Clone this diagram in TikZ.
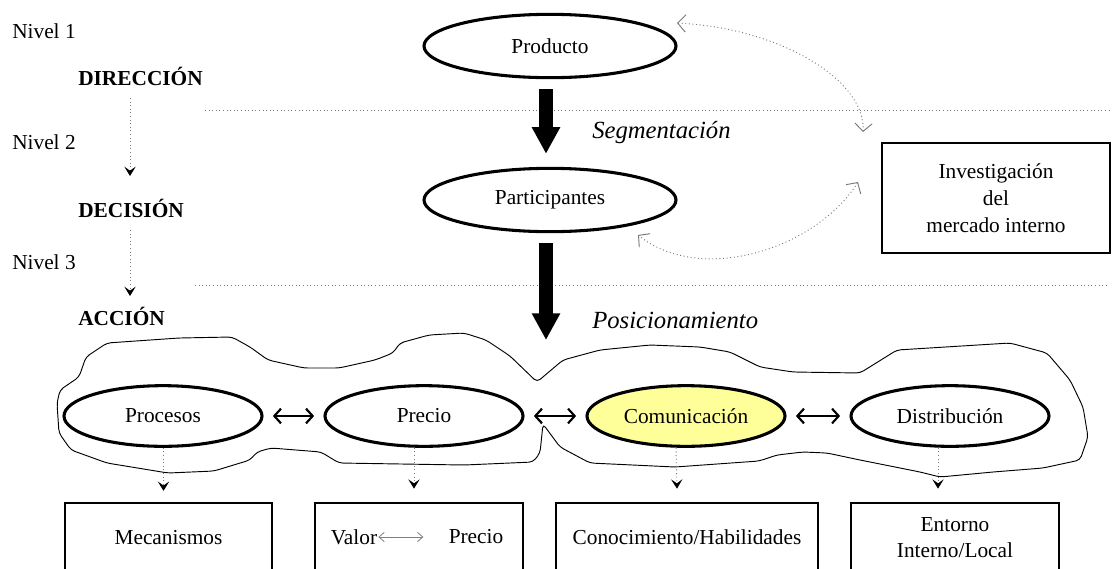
\documentclass[tikz,border=0pt]{standalone}
\usepackage{fontspec}
\setmainfont{Liberation Serif}
\usetikzlibrary{arrows.meta,shapes.geometric,calc}
\definecolor{paleyellow}{RGB}{255,255,153}
\definecolor{dotgray}{RGB}{120,120,120}
\begin{document}
\begin{tikzpicture}[x=0.75pt,y=-0.75pt,
  every node/.style={font=\fontsize{16}{19}\selectfont},
  oval/.style={draw, ellipse, line width=2.3pt, inner sep=0pt,
               minimum width=148.5pt, minimum height=45.5pt},
  bigoval/.style={oval, minimum width=189pt, minimum height=47.5pt},
  framebox/.style={draw, line width=2pt, inner sep=0pt, align=center,
               minimum height=51.75pt},
  levellabel/.style={anchor=west, inner sep=0pt},
  stagelabel/.style={anchor=west, inner sep=0pt, font=\fontsize{16}{19}\selectfont\bfseries},
  flowlabel/.style={anchor=west, inner sep=0pt, font=\fontsize{18.5}{22}\selectfont\itshape},
  dotline/.style={dotted, dotgray, line width=0.7pt},
  dotarrow/.style={dotted, dotgray, line width=0.7pt,
               -{Stealth[color=black, length=7pt, width=8.5pt, inset=3pt]}},
  feedback/.style={dotted, dotgray, line width=0.7pt,
               {Straight Barb[color=dotgray, length=6pt, width=13pt]}-{Straight Barb[color=dotgray, length=6pt, width=13pt]}},
  bigarrow/.style={line width=10.5pt, -{Triangle[length=20pt, width=20pt]}},
  linkarrow/.style={line width=1.6pt, shorten <=7pt, shorten >=7pt,
               {Straight Barb[length=5pt, width=11pt]}-{Straight Barb[length=5pt, width=11pt]}},
]
\clip (0,0) rectangle (1112,568);

% level labels on the left
\node[levellabel] (niv1) at (12,31) {Nivel 1};
\node[levellabel] (niv2) at (12,142) {Nivel 2};
\node[levellabel] (niv3) at (12,262) {Nivel 3};
\node[stagelabel] (dir) at (78,76) {DIRECCIÓN};
\node[stagelabel] (dec) at (78,208) {DECISIÓN};
\node[stagelabel] (acc) at (78,316) {ACCIÓN};

\coordinate (d1s) at (130,98);
\coordinate (d1e) at (130,176);
\coordinate (d2s) at (130,230);
\coordinate (d2e) at (130,296);
\draw[dotarrow] (d1s) -- (d1e);
\draw[dotarrow] (d2s) -- (d2e);

% level separators
\coordinate (sep1a) at (205,110);
\coordinate (sep1b) at (1112,110);
\coordinate (sep2a) at (195,285);
\coordinate (sep2b) at (1108,285);
\draw[dotline] (sep1a) -- (sep1b);
\draw[dotline] (sep2a) -- (sep2b);

% upper flow
\node[bigoval] (prod) at (550,46) {Producto};
\node[bigoval] (part) at (550,200) {Participantes};
\node[flowlabel] (seg) at (592,133) {Segmentación};
\node[flowlabel] (pos) at (592,320) {Posicionamiento};
\coordinate (posend) at (546,340);

\draw[bigarrow] ($(prod.south)+(-4,10)$) -- ($(part.north)+(-4,-13)$);
\draw[bigarrow] ($(part.south)+(-4,10)$) -- (posend);

% market research box and its feedback loops
\node[framebox, minimum width=171pt, minimum height=82.5pt,
      font=\fontsize{16}{20.3}\selectfont] (inv) at (996,198)
      {Investigación\\del\\mercado interno};

\coordinate (fb1a) at (677,23);
\coordinate (fb1b) at (863,132);
\coordinate (fb2a) at (858,182);
\coordinate (fb2b) at (638,235);
\draw[feedback] (fb1a) .. controls (780,28) and (866,80) .. (fb1b);
\draw[feedback] (fb2a) .. controls (815,250) and (700,285) .. (fb2b);

% outline grouping the marketing mix
\draw[line width=0.7pt, rounded corners=3pt]
  (57,403) -- (60,390) -- (79,377) -- (86,357) -- (107,343) -- (179,338)
  -- (232,337) -- (250,347) -- (268,360) -- (304,368) -- (339,368)
  -- (375,360) -- (393,353) -- (400,343) -- (429,335) -- (464,333)
  -- (486,340) -- (510,356) -- (537,382) -- (563,360) -- (600,350)
  -- (650,345) -- (700,347) -- (730,352) -- (760,367) -- (793,372)
  -- (860,373) -- (897,350) -- (1010,343) -- (1047,353) -- (1070,380)
  -- (1083,407) -- (1088,437) -- (1080,460) -- (1043,468) -- (993,472)
  -- (940,477) -- (920,472) -- (860,460) -- (827,453) -- (803,452)
  -- (777,455) -- (759,461) -- (675,467) -- (590,463) -- (560,447)
  -- (543,424) -- (540,453) -- (533,462) -- (464,465) -- (339,463)
  -- (321,452) -- (271,448) -- (257,452) -- (250,460) -- (214,471)
  -- (168,473) -- (107,463) -- (71,450) -- (59,433) -- cycle;

% marketing mix
\node[oval] (proc) at (163,416) {Procesos};
\node[oval] (prec) at (424,416) {Precio};
\node[oval, fill=paleyellow] (com) at (686,416) {Comunicación};
\node[oval] (dist) at (950,416) {Distribución};

\draw[linkarrow] (proc.east) -- (prec.west);
\draw[linkarrow] (prec.east) -- (com.west);
\draw[linkarrow] (com.east) -- (dist.west);

% outcomes
\node[framebox, minimum width=155.25pt] (mec) at (168.5,537.5) {Mecanismos};
\node[framebox, minimum width=156pt] (val) at (419,537.5) {};
\node[framebox, minimum width=196.5pt] (con) at (687,537.5) {Conocimiento/Habilidades};
\node[framebox, minimum width=156pt, font=\fontsize{16}{19}\selectfont] (ent) at (955,537.5) {Entorno\\Interno/Local};

\node[inner sep=0pt] (valw) at (354,537) {Valor};
\node[inner sep=0pt] (valp) at (476,537) {Precio};
\draw[gray, line width=0.6pt, {Straight Barb[length=4pt, width=7pt]}-{Straight Barb[length=4pt, width=7pt]}]
  ($(valw.east)+(1,0)$) -- ($(valw.east)+(46,0)$);

\draw[dotarrow] (proc.south -| mec.north) ++(-5,0) -- ++(0,43);
\draw[dotarrow] ($(prec.south)+(-10,0)$) -- ($(val.north)+(-5,-13)$);
\draw[dotarrow] ($(com.south)+(-10,0)$) -- ($(con.north)+(-10,-13)$);
\draw[dotarrow] ($(dist.south)+(-12,0)$) -- ($(ent.north)+(-17,-13)$);
\end{tikzpicture}
\end{document}
